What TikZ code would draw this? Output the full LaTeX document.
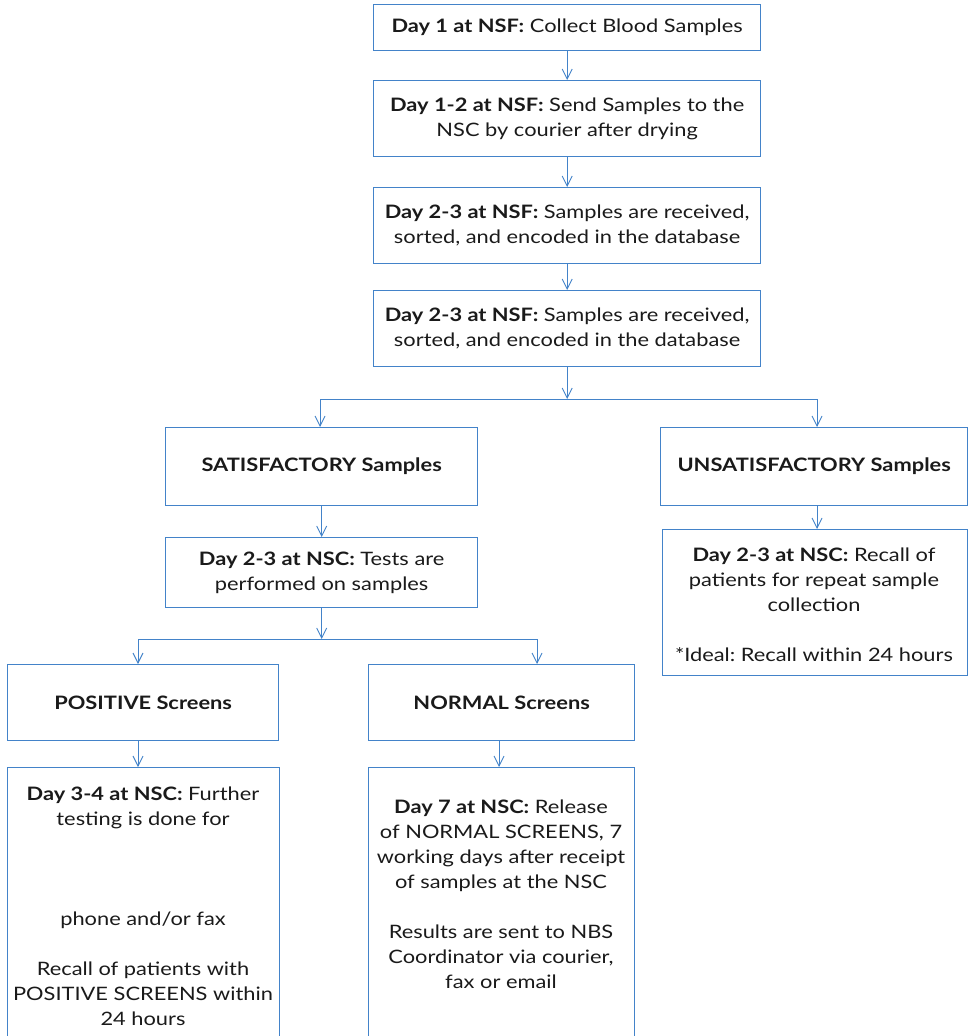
\documentclass[tikz,border=0pt]{standalone}
\usepackage{fontspec}
\setmainfont{Lato}[FakeStretch=1.18]
\usetikzlibrary{arrows.meta}
\definecolor{flowblue}{HTML}{4383C9}
\definecolor{bodytext}{HTML}{1A1A1A}
\tikzset{
  box/.style={draw=flowblue, line width=1.3pt, rectangle, inner sep=0pt, anchor=north west},
  txt/.style={inner sep=0pt, align=center, font=\fontsize{18.5}{25}\selectfont, text=bodytext},
  arr/.style={draw=flowblue, line width=0.9pt, -{Straight Barb[length=10pt,width=10pt]}},
  ln/.style={draw=flowblue, line width=0.9pt},
}
\frenchspacing
\begin{document}
\begin{tikzpicture}[x=1pt,y=-1pt]
\useasboundingbox (0,0) rectangle (968,1036);
\fill[white] (0,0) rectangle (968,1036);

% boxes of the main column
\node[box, minimum width=387pt, minimum height=46pt] (b1) at (373,4) {};
\node[box, minimum width=387pt, minimum height=76pt] (b2) at (373,80) {};
\node[box, minimum width=387pt, minimum height=76pt] (b3) at (373,187) {};
\node[box, minimum width=387pt, minimum height=76pt] (b4) at (373,290) {};

\node[txt] (t1) at (b1.center) {\textbf{Day 1 at NSF:} Collect Blood Samples};
\node[txt] (t2) at (b2.center) {\textbf{Day 1-2 at NSF:} Send Samples to the\\NSC by courier after drying};
\node[txt] (t3) at (b3.center) {\textbf{Day 2-3 at NSF:} Samples are received,\\sorted, and encoded in the database};
\node[txt] (t4) at (b4.center) {\textbf{Day 2-3 at NSF:} Samples are received,\\sorted, and encoded in the database};

% sample quality branches
\node[box, minimum width=312pt, minimum height=78pt] (sat) at (165,427) {};
\node[box, minimum width=307pt, minimum height=78pt] (unsat) at (660,427) {};
\node[txt] (tsat) at (sat.center) {\textbf{SATISFACTORY Samples}};
\node[txt] (tunsat) at (unsat.center) {\textbf{UNSATISFACTORY Samples}};

\node[box, minimum width=312pt, minimum height=70pt] (tests) at (165,537) {};
\node[txt] (ttests) at (tests.center) {\textbf{Day 2-3 at NSC:} Tests are\\performed on samples};

\node[box, minimum width=305pt, minimum height=146pt] (recall) at (662,529) {};
\node[txt, anchor=north] (trecall) at (814,548) {\textbf{Day 2-3 at NSC:} Recall of\\patients for repeat sample\\collection\\\mbox{}\\*Ideal: Recall within 24 hours};

% screening results
\node[box, minimum width=271pt, minimum height=76pt] (pos) at (7,664) {};
\node[box, minimum width=266pt, minimum height=76pt] (norm) at (368,664) {};
\node[txt] (tpos) at (pos.center) {\textbf{POSITIVE Screens}};
\node[txt] (tnorm) at (norm.center) {\textbf{NORMAL Screens}};

\node[box, minimum width=272pt, minimum height=290pt] (posd) at (7,767) {};
\node[box, minimum width=266pt, minimum height=290pt] (normd) at (368,767) {};
\node[txt, anchor=north] (tposd) at (143,787) {\textbf{Day 3-4 at NSC:} Further\\testing is done for\\\mbox{}\\\mbox{}\\\mbox{}\\phone and/or fax\\\mbox{}\\Recall of patients with\\POSITIVE SCREENS within\\24 hours};
\node[txt, anchor=north] (tnormd) at (501,800) {\textbf{Day 7 at NSC:} Release\\of NORMAL SCREENS, 7\\working days after receipt\\of samples at the NSC\\\mbox{}\\Results are sent to NBS\\Coordinator via courier,\\fax or email};

% connectors
\draw[arr] (b1.south) -- (b2.north);
\draw[arr] (b2.south) -- (b3.north);
\draw[arr] (b3.south) -- (b4.north);

\coordinate (s1) at (b4.south |- 0,399);
\coordinate (s1l) at (320,399);
\coordinate (s1r) at (817,399);
\draw[arr] (b4.south) -- (s1);
\draw[ln] (s1l) -- (s1r);
\draw[arr] (s1l) -- (s1l |- sat.north);
\draw[arr] (s1r) -- (s1r |- unsat.north);

\draw[arr] (sat.south) -- (tests.north);
\draw[arr] (unsat.south -| s1r) -- (s1r |- recall.north);

\coordinate (s2) at (tests.south |- 0,639);
\coordinate (s2l) at (138,639);
\coordinate (s2r) at (537,639);
\draw[arr] (tests.south) -- (s2);
\draw[ln] (s2l) -- (s2r);
\draw[arr] (s2l) -- (s2l |- pos.north);
\draw[arr] (s2r) -- (s2r |- norm.north);

\draw[arr] (pos.south -| s2l) -- (s2l |- posd.north);
\draw[arr] (norm.south -| 499,0) -- (499,767);
\end{tikzpicture}
\end{document}
